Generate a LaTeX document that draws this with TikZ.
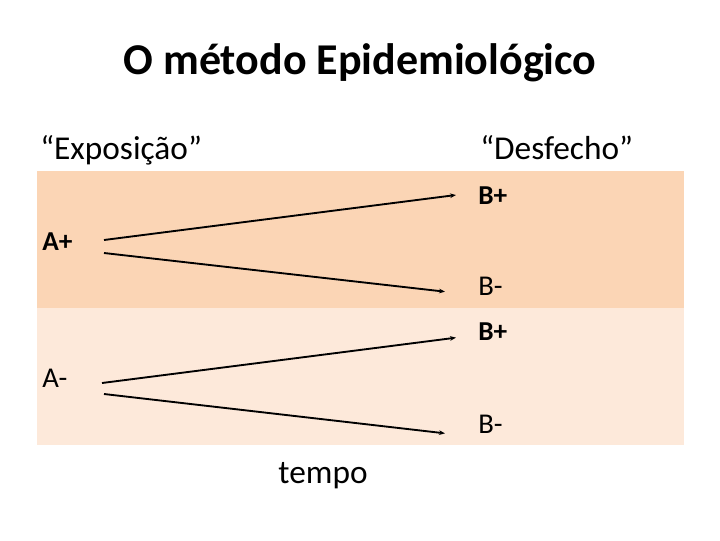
\documentclass[tikz,border=0pt]{standalone}
\usepackage{fontspec}
\setmainfont{Carlito}
\usetikzlibrary{positioning, arrows.meta}
\definecolor{faixaescura}{RGB}{251,213,181}
\definecolor{faixaclara}{RGB}{253,233,218}

\begin{document}
\begin{tikzpicture}[x=0.75pt,y=-0.75pt,
  rotulo/.style={font=\fontsize{25}{30}\selectfont, inner sep=0pt},
  letra/.style={font=\fontsize{21.5}{25}\selectfont, inner sep=0pt, anchor=west},
  letrab/.style={letra, font=\bfseries\fontsize{20.5}{24}\selectfont},
  seta/.style={line width=1.4pt, black, -{Stealth[length=4.5pt,width=3.5pt]}}]
  \useasboundingbox (0,0) rectangle (720,540);
  % faixas de fundo
  \fill[faixaescura] (37,171) rectangle (684,308);
  \fill[faixaclara] (37,308) rectangle (684,445);

  \node[font=\bfseries\fontsize{33}{39}\selectfont] (titulo) at (360,63) {O método Epidemiológico};
  \node[rotulo, anchor=base west] (expo) at (40,159) {“Exposição”};
  \node[rotulo, anchor=base west] (desf) at (480,159) {“Desfecho”};

  \node[letrab] (amais) at (42,242) {A+};
  \node[letra] (amenos) at (42,378) {A-};
  \node[letrab] (bmais1) at (478,196) {B+};
  \node[letra] (bmenos1) at (478,286) {B-};
  \node[letrab] (bmais2) at (478,332) {B+};
  \node[letra] (bmenos2) at (478,424) {B-};

  \node[rotulo, anchor=base] (tempo) at (323,483) {tempo};

  \draw[seta] ([xshift=46.5pt,yshift=1.5pt]amais.west) -- ([xshift=-16.5pt,yshift=0.75pt]bmais1.west);
  \draw[seta] ([xshift=46.5pt,yshift=-8.25pt]amais.west) -- ([xshift=-24.75pt,yshift=-4.25pt]bmenos1.west);
  \draw[seta] ([xshift=45pt,yshift=-3.75pt]amenos.west) -- ([xshift=-16.5pt,yshift=-4.25pt]bmais2.west);
  \draw[seta] ([xshift=46.5pt,yshift=-12pt]amenos.west) -- ([xshift=-24.75pt,yshift=-7pt]bmenos2.west);
\end{tikzpicture}
\end{document}
